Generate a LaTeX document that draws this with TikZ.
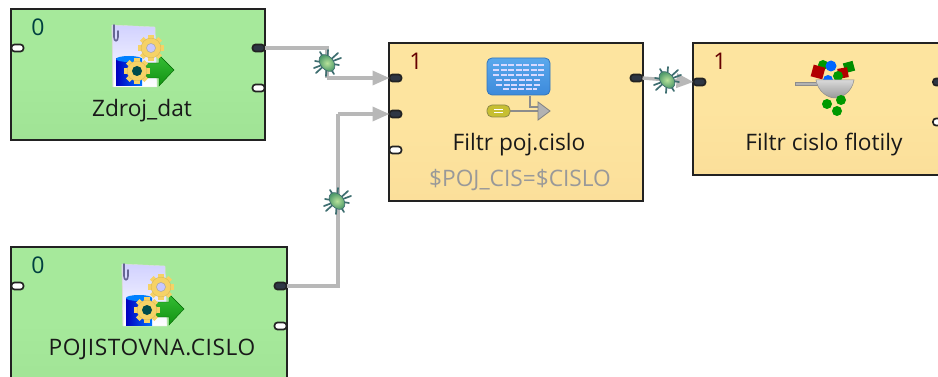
\documentclass[tikz,border=0pt]{standalone}
\usepackage{fontspec}
\setmainfont{Open Sans}
\usetikzlibrary{arrows.meta,shadings}
\definecolor{grn}{HTML}{A6E99B}
\definecolor{grnb}{HTML}{A0E395}
\definecolor{yel}{HTML}{FDE49F}
\definecolor{yelb}{HTML}{FBDF9A}
\definecolor{wire}{HTML}{B8B8B8}
\definecolor{edge}{HTML}{222222}
\definecolor{portd}{HTML}{2E3644}
\definecolor{gearc}{HTML}{F6D266}
\definecolor{kbtop}{HTML}{5AA8EC}
\definecolor{kbbot}{HTML}{3D8ADB}
\definecolor{bugleg}{HTML}{3E6E70}
\definecolor{bugin}{HTML}{B8E39A}
\definecolor{bugout}{HTML}{4F9A6A}
\definecolor{arrtop}{HTML}{35BE35}
\definecolor{arrbot}{HTML}{129212}
\newcommand{\cogwheel}[4]{%
  \begin{scope}[shift={(#1,#2)}]
    \foreach \a in {0,45,...,315}{
      \fill[#4,rotate=\a] (-2.6,-#3) rectangle (2.6,0);
    }
    \fill[#4,draw=#4!85!black,line width=.3pt] (0,0) circle[radius=#3*0.76];
  \end{scope}
}
\tikzset{
  x=1pt,y=-1pt,
  grnbox/.style={top color=grn,bottom color=grnb,middle color=grn},
  yelbox/.style={top color=yel,bottom color=yelb,middle color=yel},
  frame/.style={draw=edge,line width=2pt},
  opn/.style={draw=edge,line width=1.7pt,fill=white,rounded corners=3pt,minimum width=12pt,minimum height=7pt,inner sep=0pt,outer sep=0pt},
  con/.style={draw=edge,line width=1.7pt,fill=portd,rounded corners=3pt,minimum width=12pt,minimum height=7pt,inner sep=0pt,outer sep=0pt},
  lbl/.style={font=\fontsize{22.7pt}{24pt}\selectfont,text=black!90,inner sep=0pt,anchor=base},
  numg/.style={font=\fontsize{23pt}{24pt}\selectfont,text=teal!50!black,inner sep=0pt},
  numy/.style={font=\fontsize{23pt}{24pt}\selectfont,text=red!40!black,inner sep=0pt},
  wirepath/.style={draw=wire,line width=3.4pt},
  wirearrow/.style={wirepath,-{Triangle[length=17pt,width=14pt,fill=wire]}},
  datagen/.pic={
    % page
    \shade[top color=blue!18!white,bottom color=white,draw=black!12,line width=.4pt] (0,0) -- (43,2) -- (45,62) -- (1,62) -- cycle;
    \draw[black!15,line width=.8pt] (0,0) -- (1,62);
    \draw[blue!30!black!60,line width=1.6pt,line cap=round] (2,0) -- (2,12) .. controls (2,17) and (6,17) .. (6,12) -- (6,6);
    % cylinder
    \shade[left color=blue!75!black,right color=blue!55!cyan] (4,34) rectangle (30,61);
    \fill[blue!50!cyan] (17,34) ellipse[x radius=13,y radius=3];
    % arrow
    \shade[top color=arrtop,bottom color=arrbot,draw=green!40!black,line width=.4pt] (34,38) -- (47,38) -- (47,30) -- (62,45) -- (47,61) -- (47,53) -- (34,53) -- cycle;
    % gears
    \cogwheel{39}{23}{13}{gearc}
    \fill[blue!22!white,draw=black!35,line width=.5pt] (39,23) circle[radius=4.5];
    \cogwheel{25}{46}{13}{gearc}
    \fill[teal!60!black] (25,46) circle[radius=5];
  },
  bugpic/.pic={
    \draw[bugleg,line width=1.7pt,line cap=round]
      (-12,-2) -- (12,2) (-7,-11) -- (7,11) (1,-13) -- (-1,13)
      (11,-10) -- (-11,10) (14,-5) -- (-13,5);
    \shade[rotate=40,inner color=bugin,outer color=bugout,draw=bugleg,line width=.7pt]
      (0,0) ellipse[x radius=6.5,y radius=9.5];
  },
}
\begin{document}
\begin{tikzpicture}
\useasboundingbox (0,0) rectangle (938,377);
\clip (0,0) rectangle (938,377);
\fill[white] (0,0) rectangle (938,377);

% boxes
\node[grnbox,minimum width=254pt,minimum height=131pt,inner sep=0pt,outer sep=0pt] (src) at (138,74.5) {};
\node[grnbox,minimum width=276pt,minimum height=150pt,inner sep=0pt,outer sep=0pt] (poj) at (149,322) {};
\node[yelbox,minimum width=254pt,minimum height=158pt,inner sep=0pt,outer sep=0pt] (flt) at (516,122) {};
\node[yelbox,minimum width=290pt,minimum height=132pt,inner sep=0pt,outer sep=0pt] (fcf) at (838,109) {};

% ports
\node[opn] (srcI) at (17.5,48) {};
\node[con] (srcO) at (258.5,48) {};
\node[opn] (srcE) at (258.5,88) {};
\node[opn] (pojI) at (17.5,286) {};
\node[con] (pojO) at (280.5,286) {};
\node[opn] (pojE) at (280.5,326) {};
\node[con] (fltA) at (395.5,78) {};
\node[con] (fltB) at (395.5,114) {};
\node[opn] (fltC) at (395.5,150) {};
\node[con] (fltO) at (636.5,78) {};
\node[con] (fcfI) at (699.5,82) {};
\node[con] (fcfO) at (939,82) {};
\node[opn] (fcfE) at (939,122) {};

% box frames, over the ports
\foreach \b in {src,poj,flt,fcf}{
  \draw[frame] (\b.north west) rectangle (\b.south east);
}

% junction coordinates
\coordinate (c1a) at (327,48);
\coordinate (c1b) at (327,78);
\coordinate (c2a) at (338,286);
\coordinate (c2b) at (338,114);
\coordinate (bug1) at (327,63);
\coordinate (bug2) at (337,201);
\coordinate (bug3) at (667,80);

% connectors
\draw[wirepath] (srcO.east) -- (c1a) -- (c1b);
\draw[wirearrow] (c1b) -- (fltA.west);
\draw[wirepath] (pojO.east) -- (c2a) -- (c2b);
\draw[wirearrow] (c2b) -- (fltB.west);
\draw[wirearrow] (fltO.east) -- (fcfI.west);

% bugs
\pic at (bug1) {bugpic};
\pic at (bug2) {bugpic};
\pic at (bug3) {bugpic};

% icons
\pic at (112,25) {datagen};
\pic at (122,264) {datagen};

% keyboard icon
\shade[top color=kbtop,bottom color=kbbot,draw=kbbot!85!black,line width=.8pt,rounded corners=5pt] (487,58) rectangle (550,95);
\foreach \yy/\sx/\ex in {65/493/544,70/493/544,75/493/544,80/496/541,85/496/541,89/503/537}{
  \draw[white!85!blue,line width=1.4pt,dash pattern=on 6pt off 1.5pt] (\sx,\yy) -- (\ex,\yy);
}
\draw[black!45,line width=1.2pt] (530,96) -- (530,107) -- (539,107);
\draw[black!45,line width=1.2pt] (505,111) -- (539,111);
\fill[black!30,draw=black!50,line width=.8pt] (538,102) -- (550,111) -- (538,120) -- cycle;
\fill[yellow!75!black,draw=yellow!50!black,line width=.8pt,rounded corners=5pt] (487,105) rectangle (510,117);
\draw[white,line width=1pt] (494,109.5) -- (503,109.5) (494,112.5) -- (503,112.5);

% filter icon
\fill[green!60!black] (823,65) circle[radius=5];
\fill[blue!60!cyan] (831,66) circle[radius=5.5];
\fill[green!55!black,rotate around={15:(849,67)}] (844,62) rectangle (854,72);
\fill[red!70!black,rotate around={-15:(818,72)}] (812,66) rectangle (824,78);
\fill[red!70!black,rotate around={10:(843,73)}] (838,68) rectangle (848,78);
\fill[blue!60!cyan] (828,80) circle[radius=5];
\fill[green!60!black] (838,76) circle[radius=5];
\fill[black!30,draw=black!45,line width=.5pt] (795,82) rectangle (817,85);
\shade[top color=black!15,bottom color=black!40,draw=black!45,line width=.5pt] (816,80) -- (854,80) .. controls (852,92) and (842,98) .. (835,98) .. controls (828,98) and (818,92) .. (816,80) -- cycle;
\fill[green!60!black] (827,104) circle[radius=5];
\fill[green!60!black] (841,100) circle[radius=5];
\fill[green!60!black] (837,111) circle[radius=5];

% labels
\node[numg] (n0a) at (38,27) {0};
\node[numg] (n0b) at (38,265) {0};
\node[numy] (n1a) at (416,61) {1};
\node[numy] (n1b) at (720,61) {1};
\node[lbl] (t1) at (142,117) {Zdroj\_dat};
\node[lbl] (t2) at (152,355) {\addfontfeature{LetterSpace=2.6}POJISTOVNA.CISLO};
\node[lbl] (t3) at (519,151) {Filtr poj.cislo};
\node[lbl,text=black!40] (t4) at (520,187) {\$POJ\_CIS=\$CISLO};
\node[lbl] (t5) at (824,151) {Filtr cislo flotily};
\end{tikzpicture}
\end{document}
